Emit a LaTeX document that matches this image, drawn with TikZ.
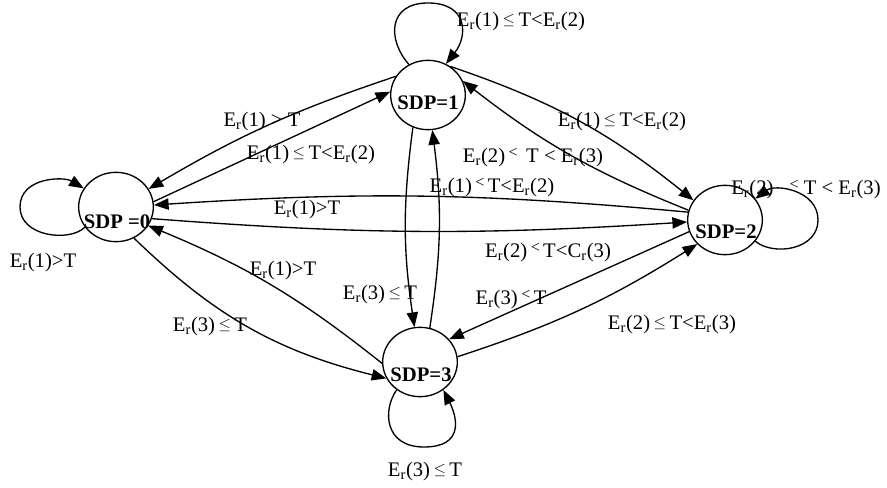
\documentclass[tikz,border=0pt]{standalone}
\usepackage{fontspec}
\setmainfont{Liberation Serif}
\usetikzlibrary{arrows.meta,shapes.geometric}
\newcommand{\Er}[1]{E\textsubscript{r}(#1)}
\newcommand{\Cr}[1]{C\textsubscript{r}(#1)}
\newcommand{\leqr}{\raisebox{.3ex}{\fontsize{13}{13}\selectfont$\leq$}}
\newcommand{\ltr}{\raisebox{.55ex}{\fontsize{12}{12}\selectfont<}}
\begin{document}
\begin{tikzpicture}[x=0.75pt,y=0.75pt,
  state/.style={draw,ellipse,minimum width=56pt,minimum height=52pt,inner sep=0pt,line width=1pt},
  stxt/.style={font=\bfseries\fontsize{15.5}{18}\selectfont,inner sep=0pt},
  lbl/.style={font=\fontsize{15.5}{18}\selectfont,inner sep=0pt},
  arr/.style={line width=1pt,-{Triangle[length=11pt,width=8.5pt]}},
]
\useasboundingbox (0,0) rectangle (887,-488);

% states
\node[state] (s0) at (116,-207) {};
\node[state] (s1) at (428,-95) {};
\node[state] (s2) at (725,-220) {};
\node[state] (s3) at (420,-362) {};
\node[stxt] (t0) at (117,-222) {SDP =0};
\node[stxt] (t1) at (428,-103) {SDP=1};
\node[stxt] (t2) at (726,-232) {SDP=2};
\node[stxt] (t3) at (421,-375) {SDP=3};

% loop far points
\coordinate (L0) at (20,-207);
\coordinate (L1) at (428,-3);
\coordinate (L2) at (818,-220);
\coordinate (L3) at (424,-447);

% self loops
\draw[arr] (s0.213) .. controls +(-15,-15) and +(0,-30) .. (L0)
                    .. controls +(0,30) and +(-20,12) .. (s0.150);
\draw[arr] (s1.122) .. controls +(-22,25) and +(-40,0) .. (L1)
                    .. controls +(40,0) and +(22,28) .. (s1.60);
\draw[arr] (s2.-35) .. controls +(18,-15) and +(0,-30) .. (L2)
                    .. controls +(0,30) and +(20,15) .. (s2.35);
\draw[arr] (s3.-130) .. controls +(-14,-20) and +(-40,0) .. (L3)
                     .. controls +(40,0) and +(14,-28) .. (s3.-50);

% edges
\draw[arr] (s1.150) to[bend right=6] (s0.29);
\draw[arr] (s0.8) -- (s1.175);
\draw[arr] (s1.52) to[bend left=10] (s2.148);
\draw[arr] (s2.165) to[bend left=8] (s1.22);
\draw[arr] (s2.168) to[bend right=4.5] (s0.3);
\draw[arr] (s0.-18) to[bend right=4] (s2.183);
\draw[arr] (s1.-115) to[bend right=8] (s3.99);
\draw[arr] (s3.74) to[bend right=8] (s1.-83);
\draw[arr] (s3.182) to[bend right=8] (s0.-30);
\draw[arr] (s0.-60) to[bend right=15] (s3.206);
\draw[arr] (s2.198) -- (s3.38);
\draw[arr] (s3.8) to[bend right=7] (s2.221);

% labels
\node[lbl] (la0) at (43,-263) {\Er{1}>T};
\node[lbl] (la1) at (521,-22) {\Er{1}\,\leqr\,T<\Er{2}};
\node[lbl] (la2) at (806,-190) {\Er{2}\hspace{12pt}\ltr\hspace{4pt}T < \Er{3}};
\node[lbl] (la3) at (425,-472) {\Er{3}\,\leqr\,T};
\node[lbl] (le1) at (262,-122) {\Er{1} > T};
\node[lbl] (le2) at (311,-155) {\Er{1}\,\leqr\,T<\Er{2}};
\node[lbl] (le3) at (622,-122) {\Er{1}\,\leqr\,T<\Er{2}};
\node[lbl] (le4) at (533,-158) {\Er{2}\,\ltr\, T < \Er{3}};
\node[lbl] (le5) at (492,-188) {\Er{1}\,\ltr\,T<\Er{2}};
\node[lbl] (le6) at (307,-210) {\Er{1}>T};
\node[lbl] (le7) at (283,-271) {\Er{1}>T};
\node[lbl] (le8) at (380,-295) {\Er{3}\,\leqr\,T};
\node[lbl] (le9) at (210,-327) {\Er{3}\,\leqr\,T};
\node[lbl] (le10) at (548,-253) {\Er{2}\,\ltr\,T<\Cr{3}};
\node[lbl] (le11) at (511,-300) {\Er{3}\,\ltr\,T};
\node[lbl] (le12) at (672,-325) {\Er{2}\,\leqr\,T<\Er{3}};
\end{tikzpicture}
\end{document}
